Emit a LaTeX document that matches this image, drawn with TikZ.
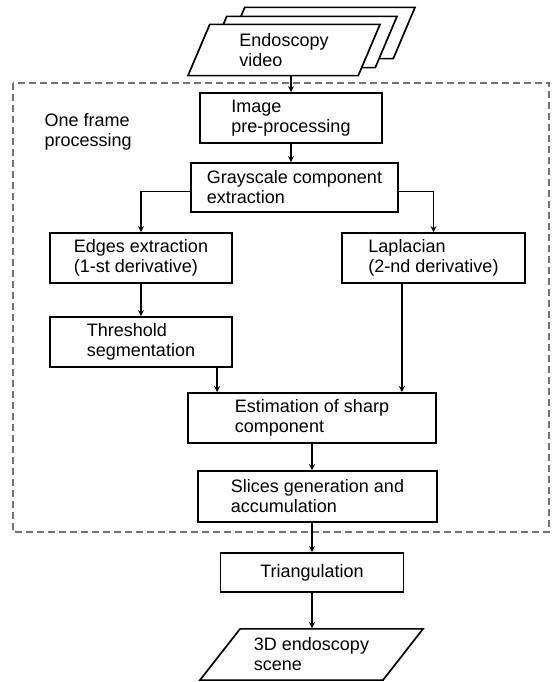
\documentclass[tikz,border=0pt]{standalone}
\usepackage{fontspec}
\setmainfont{Liberation Sans}
\usetikzlibrary{shapes.geometric}
\tikzset{blk/.style = {rectangle, draw, line width=1.7pt, align=left, inner sep=0pt},
    io/.style = {trapezium, draw, fill=white, line width=1.7pt, align=left, inner xsep=0pt,
                 inner ysep=9pt, trapezium stretches body},
    frm/.style = {draw=black!55, line width=1.3pt, dash pattern=on 7pt off 4pt},
    ln/.style = {line width=1.7pt}}

\begin{document}
\begin{tikzpicture}[x=1pt, y=-1pt, >=stealth, font=\fontsize{18}{20}\selectfont]
        \useasboundingbox (0,0) rectangle (551,682);
        \draw[frm] (13,83) rectangle (549,532);
        \node[align=left, anchor=west] (lbl) at (41,132) {One frame\\processing};

        % input stack
        \foreach \n/\dx/\dy in {vid3/35/-17, vid2/17/-8}
            \node[io, trapezium left angle=67, trapezium right angle=113,
                  minimum width=192] (\n) at (284+\dx,50+\dy) {\phantom{Endoscopy}\\\phantom{video}};
        \node[io, trapezium left angle=67, trapezium right angle=113,
              minimum width=192] (vid) at (284,50) {Endoscopy\\video};

        \node[blk, minimum width=182, minimum height=50] (img) at (291,118) {Image\\pre-processing};
        \node[blk, minimum width=207, minimum height=49] (gray) at (294.5,187.5) {Grayscale component\\extraction};
        \node[blk, minimum width=182, minimum height=50] (edge) at (141,258) {Edges extraction\\(1-st derivative)};
        \node[blk, minimum width=183, minimum height=50] (lap) at (433.5,258) {Laplacian\\(2-nd derivative)};
        \node[blk, minimum width=182, minimum height=50] (thr) at (141,342) {Threshold\\segmentation};
        \node[blk, minimum width=248, minimum height=50] (est) at (312,418) {Estimation of sharp\\component};
        \node[blk, minimum width=239, minimum height=51] (slc) at (317.5,496.5) {Slices generation and\\accumulation};
        \node[blk, minimum width=183, minimum height=39] (tri) at (312,572.5) {Triangulation};
        \node[io, trapezium left angle=52, trapezium right angle=128,
              minimum width=223] (scn) at (311.5,654.5) {3D endoscopy\\scene};

        \draw[ln,->] (img.north |- vid.south) -- (img.north);
        \draw[ln,->] (img.south) -- (img.south |- gray.north);
        \draw[ln,->] ([yshift=-4pt]gray.west) -| (edge.north);
        \draw[ln,->] ([yshift=-4pt]gray.east) -| (lap.north);
        \draw[ln,->] (edge.south) -- (thr.north);
        \draw[ln,->] ([xshift=30pt]est.north west |- thr.south) -- ([xshift=30pt]est.north west);
        \draw[ln,->] ([xshift=-35pt]est.north east |- lap.south) -- ([xshift=-35pt]est.north east);
        \draw[ln,->] (est.south) -- (est.south |- slc.north);
        \draw[ln,->] (tri.north |- slc.south) -- (tri.north);
        \draw[ln,->] (tri.south) -- (tri.south |- scn.north);
    \end{tikzpicture}
\end{document}
